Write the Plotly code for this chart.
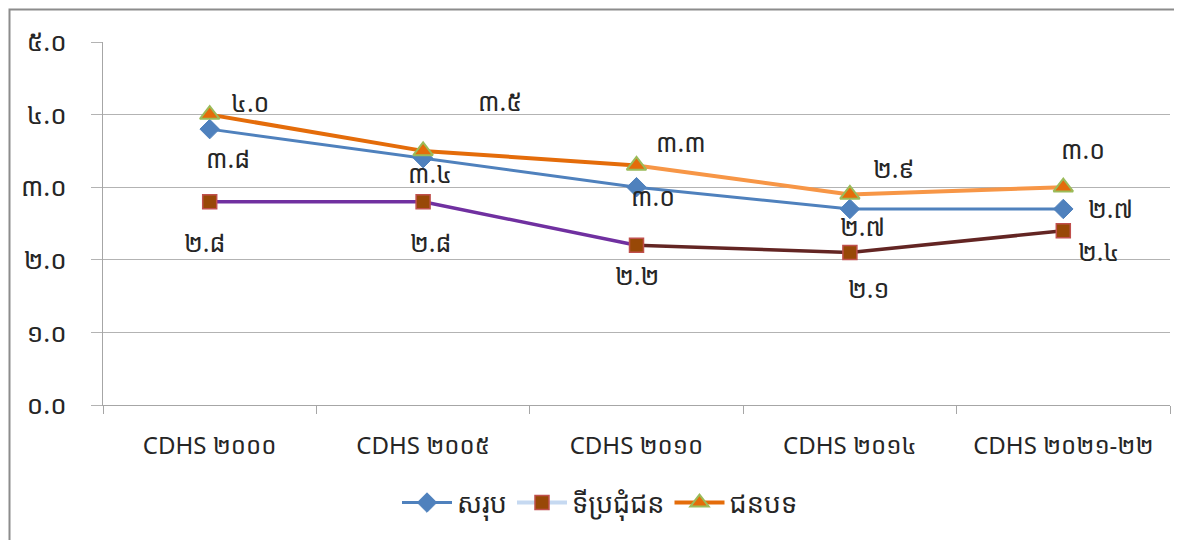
import plotly.graph_objects as go

# ---- data ----
categories = ["CDHS ២០០០", "CDHS ២០០៥", "CDHS ២០១០", "CDHS ២០១៤", "CDHS ២០២១-២២"]
total = [3.8, 3.4, 3.0, 2.7, 2.7]
urban = [2.8, 2.8, 2.2, 2.1, 2.4]
rural = [4.0, 3.5, 3.3, 2.9, 3.0]
series_names = ["សរុប", "ទីប្រជុំជន", "ជនបទ"]
y_ticks = [0, 1, 2, 3, 4, 5]

KH = "០១២៣៤៥៦៧៨៩"
def kh(v):
    s = f"{v:.1f}"
    return "".join(KH[int(c)] if c.isdigit() else c for c in s)

# page body has an 8px margin; figure is sized/positioned to compensate
OFF = 8
W, H = 1182 - OFF, 540 - OFF
L, R, T, B = 103 - OFF, 1170 - OFF, 42 - OFF, 405 - OFF  # plot area in figure pixels

FONT = "Noto Sans, Noto Sans Khmer, Khmer OS, sans-serif"
TXT = "#262626"

fig = go.Figure()

# urban line segments (colour changes)
urban_seg_cols = ["#7030a0", "#7030a0", "#632523", "#632523"]
rural_seg_cols = ["#e46c0a", "#e46c0a", "#f79646", "#f79646"]
for i in range(4):
    fig.add_trace(go.Scatter(x=categories[i:i+2], y=urban[i:i+2], mode="lines",
                             line=dict(color=urban_seg_cols[i], width=3.5),
                             showlegend=False, hoverinfo="skip"))
for i in range(4):
    fig.add_trace(go.Scatter(x=categories[i:i+2], y=rural[i:i+2], mode="lines",
                             line=dict(color=rural_seg_cols[i], width=4),
                             showlegend=False, hoverinfo="skip"))

# total
fig.add_trace(go.Scatter(x=categories, y=total, mode="lines+markers", name=series_names[0],
                         line=dict(color="#4f81bd", width=3),
                         marker=dict(symbol="diamond", size=15, color="#4f81bd",
                                     line=dict(color="#4f81bd", width=1))))
# urban markers + legend entry
fig.add_trace(go.Scatter(x=categories, y=urban, mode="markers", showlegend=False,
                         marker=dict(symbol="square", size=14, color="#984807",
                                     line=dict(color="#c0504d", width=1.5))))
fig.add_trace(go.Scatter(x=categories, y=[None]*len(categories), mode="lines+markers",
                         name=series_names[1],
                         line=dict(color="#c6d9f1", width=4),
                         marker=dict(symbol="square", size=14, color="#984807",
                                     line=dict(color="#c0504d", width=1.5))))
# rural markers + legend entry
fig.add_trace(go.Scatter(x=categories, y=rural, mode="markers", showlegend=False,
                         marker=dict(symbol="triangle-up", size=17, color="#e46c0a",
                                     line=dict(color="#9bbb59", width=2))))
fig.add_trace(go.Scatter(x=categories, y=[None]*len(categories), mode="lines+markers",
                         name=series_names[2],
                         line=dict(color="#e46c0a", width=4),
                         marker=dict(symbol="triangle-up", size=17, color="#e46c0a",
                                     line=dict(color="#9bbb59", width=2))))

# data labels (offsets in pixels)
rural_off = [(40, 13), (77, 50), (44, 23), (44, 26), (20, 38)]
total_off = [(18, -29), (7, -15), (16, -9), (13, -17), (47, 1)]
urban_off = [(-5, -40), (7, -40), (0, -30), (19, -35), (35, -20)]
for vals, offs in ((rural, rural_off), (total, total_off), (urban, urban_off)):
    for c, v, (dx, dy) in zip(categories, vals, offs):
        fig.add_annotation(x=c, y=v, text=kh(v), showarrow=False,
                           xshift=dx, yshift=dy,
                           font=dict(family=FONT, size=25, color=TXT))

# outer frame
def px(xp): return (xp - OFF - L) / (R - L)
def py(yp): return (B - (yp - OFF)) / (B - T)
fig.add_shape(type="rect", xref="paper", yref="paper",
              x0=px(9.5), x1=px(1200), y0=py(560), y1=py(9.5),
              line=dict(color="#8c8c8c", width=2), layer="below")

fig.update_layout(
    width=W, height=H,
    margin=dict(l=L, r=W - R, t=T, b=H - B),
    paper_bgcolor="white", plot_bgcolor="white",
    font=dict(family=FONT, color=TXT),
    showlegend=True,
    legend=dict(orientation="h", x=px(600), xanchor="center", y=py(503), yanchor="middle",
                font=dict(family=FONT, size=27, color=TXT),
                itemwidth=50, tracegroupgap=0, bgcolor="rgba(0,0,0,0)"),
)
fig.update_xaxes(type="category", range=[-0.5, 4.5], showgrid=False,
                 showline=True, linecolor="#a6a6a6", linewidth=1,
                 ticks="outside", ticklen=8, tickcolor="#a6a6a6", tickson="boundaries",
                 tickfont=dict(family=FONT, size=24, color=TXT), ticklabelstandoff=19)
fig.update_yaxes(range=[0, 5], tickvals=y_ticks, ticktext=[kh(v) for v in y_ticks],
                 showgrid=True, gridcolor="#b3b3b3", gridwidth=1, zeroline=False,
                 showline=True, linecolor="#a6a6a6", linewidth=1,
                 ticks="outside", ticklen=11, tickcolor="#b3b3b3",
                 tickfont=dict(family=FONT, size=26, color=TXT), ticklabelstandoff=19)

fig.write_html("out.html")
